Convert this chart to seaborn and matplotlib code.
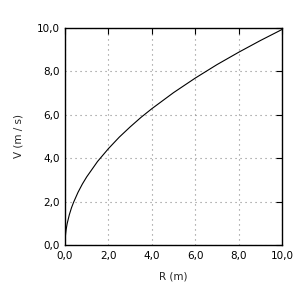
import matplotlib
matplotlib.use("Agg")
import matplotlib.pyplot as plt
import seaborn as sns
import pandas as pd
from matplotlib.ticker import FuncFormatter

# values
r_vals = [0.0, 0.01, 0.02, 0.05, 0.1, 0.2, 0.3, 0.4, 0.6, 0.8, 1.0, 1.5, 2.0, 2.5,
          3.0, 3.5, 4.0, 5.0, 6.0, 7.0, 8.0, 9.0, 10.0]
v_vals = [0.0, 0.31, 0.44, 0.70, 0.99, 1.40, 1.72, 1.98, 2.43, 2.81, 3.14, 3.85, 4.44,
          4.97, 5.44, 5.88, 6.28, 7.02, 7.69, 8.31, 8.88, 9.42, 9.93]
ticks = [0, 2, 4, 6, 8, 10]

df = pd.DataFrame({"R": r_vals, "V": v_vals})

sns.set_style("white")
plt.rcParams["font.family"] = ["DejaVu Sans"]

fig = plt.figure(figsize=(3, 3), dpi=100)
ax = fig.add_axes([0.2167, 0.1833, 0.7233, 0.7234])
sns.lineplot(data=df, x="R", y="V", ax=ax, color="black", linewidth=0.8)

ax.set_xlim(0, 10)
ax.set_ylim(0, 10)
ax.set_xticks(ticks)
ax.set_yticks(ticks)
fmt = FuncFormatter(lambda v, p: f"{v:.1f}".replace(".", ","))
ax.xaxis.set_major_formatter(fmt)
ax.yaxis.set_major_formatter(fmt)
ax.tick_params(direction="in", length=4, width=0.8, top=True, right=True,
               labelsize=7.5, colors="black", pad=4)
ax.grid(True, color="#888888", linestyle=(0, (1, 3.5)), linewidth=0.8)
for s in ax.spines.values():
    s.set_color("black")
    s.set_linewidth(1.0)
ax.set_xlabel("R (m)", fontsize=7.5, labelpad=8)
ax.set_ylabel("V (m / s)", fontsize=7.5, labelpad=9)

fig.savefig("out.png", dpi=100)
